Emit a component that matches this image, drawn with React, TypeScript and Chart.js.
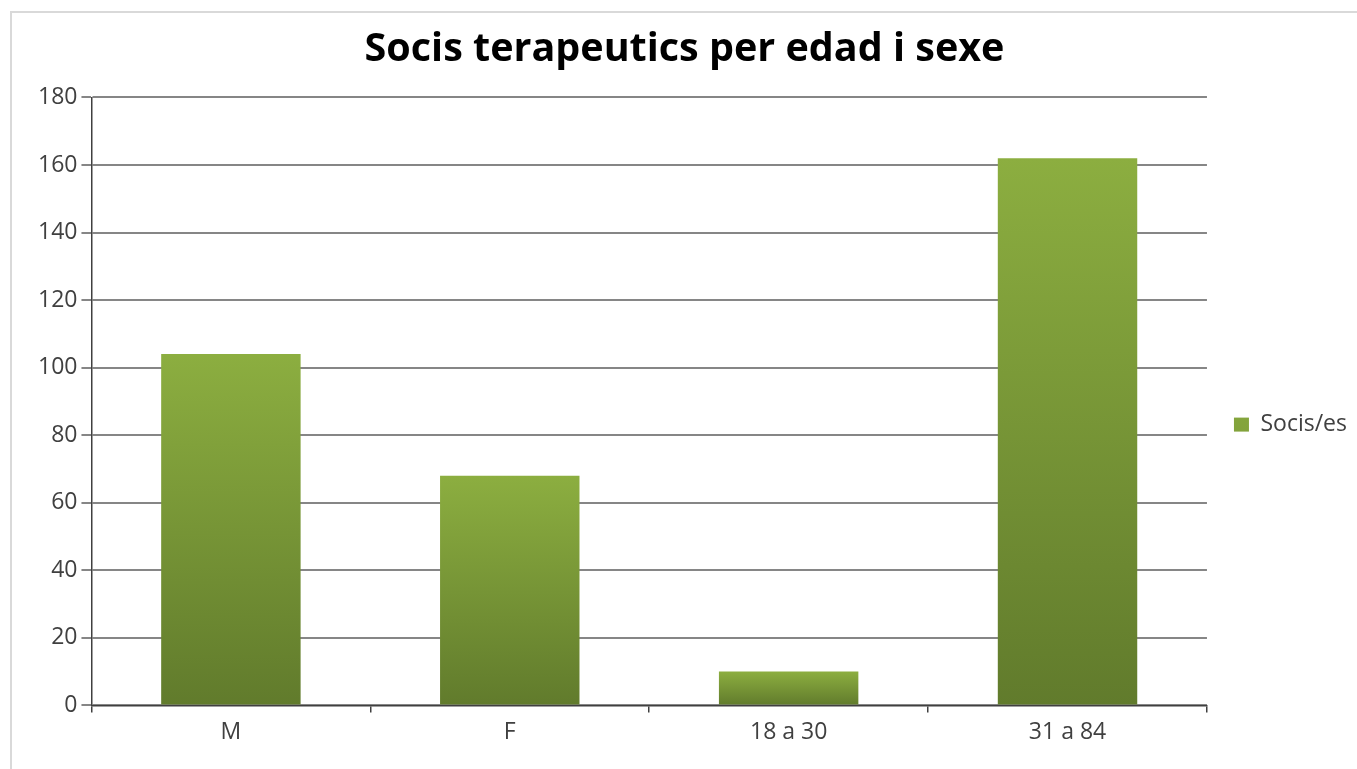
import React, { useEffect, useRef } from "react";
import { Chart, registerables } from "chart.js";

Chart.register(...registerables);

const categories = ["M", "F", "18 a 30", "31 a 84"];
const seriesLabel = "Socis/es";
const seriesValues = [104, 68, 10, 162];
const yTicks = [0, 20, 40, 60, 80, 100, 120, 140, 160, 180];
const titleText = "Socis terapeutics per edad i sexe";

const FONT = "'Open Sans', 'Liberation Sans', sans-serif";

export default function App() {
  const ref = useRef<HTMLCanvasElement | null>(null);

  useEffect(() => {
    if (!ref.current) return;
    const chart = new Chart(ref.current, {
      type: "bar",
      data: {
        labels: categories,
        datasets: [
          {
            label: seriesLabel,
            data: seriesValues,
            backgroundColor: (ctx: any) => {
              const c = ctx.chart;
              const y = c.scales && c.scales.y;
              if (!y || ctx.type !== "data" || ctx.raw == null) return "#7a9b37";
              const top = y.getPixelForValue(ctx.raw);
              const base = y.getPixelForValue(0);
              if (!isFinite(top) || !isFinite(base) || top === base) return "#7a9b37";
              const g = c.ctx.createLinearGradient(0, top, 0, base);
              g.addColorStop(0, "#8cae40");
              g.addColorStop(1, "#617b2c");
              return g;
            },
            borderWidth: 0,
            categoryPercentage: 1,
            barPercentage: 0.5,
          },
        ],
      },
      options: {
        animation: false,
        responsive: false,
        maintainAspectRatio: false,
        layout: { padding: { left: 12, right: 0, top: 8, bottom: 17 } },
        plugins: {
          title: {
            display: true,
            text: titleText,
            color: "#000",
            font: { family: FONT, size: 39.5, weight: "bold" },
            padding: { top: 18, bottom: 24 },
          },
          legend: {
            position: "right",
            title: { display: true, text: " ", padding: 35, font: { size: 16 } },
            labels: {
              color: "#404040",
              font: { family: FONT, size: 23 },
              boxWidth: 15,
              boxHeight: 14,
              padding: 27,
            },
          },
          tooltip: { enabled: false },
        },
        scales: {
          x: {
            offset: true,
            grid: {
              offset: true,
              drawOnChartArea: false,
              drawTicks: true,
              tickLength: 7,
              color: "#404040",
              lineWidth: 1.5,
            },
            border: { display: true, color: "#404040", width: 1.5 },
            ticks: {
              color: "#404040",
              font: { family: FONT, size: 23 },
              padding: 6,
            },
          },
          y: {
            min: 0,
            max: 180,
            afterBuildTicks: (axis: any) => {
              axis.ticks = yTicks.map((v) => ({ value: v }));
            },
            afterFit: (axis: any) => {
              axis.width += 22;
            },
            grid: {
              color: "#868686",
              lineWidth: 2,
              tickLength: 10,
              drawTicks: true,
            },
            border: { display: true, color: "#404040", width: 1.5 },
            ticks: {
              color: "#404040",
              font: { family: FONT, size: 23 },
              padding: 4,
            },
          },
        },
      },
    });
    return () => chart.destroy();
  }, []);

  return (
    <div style={{ position: "absolute", left: 0, top: 0, width: 1357, height: 769, background: "#fff", overflow: "hidden" }}>
      <div
        style={{
          position: "absolute",
          left: 10,
          top: 11,
          width: 1400,
          height: 800,
          borderTop: "2px solid #d9d9d9",
          borderLeft: "2px solid #d9d9d9",
        }}
      />
      <canvas ref={ref} width={1357} height={769} style={{ position: "absolute", left: 0, top: 0, display: "block" }} />
    </div>
  );
}
